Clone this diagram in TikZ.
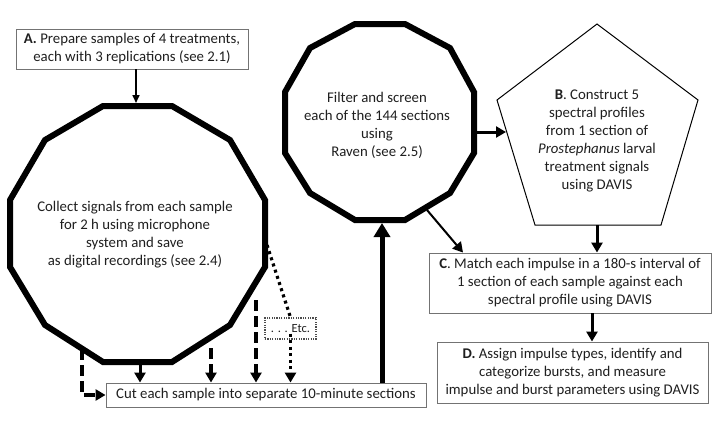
\documentclass[tikz,border=0pt]{standalone}
\usepackage{fontspec}
\setmainfont{Carlito}
\usetikzlibrary{arrows.meta}
\begin{document}
\begin{tikzpicture}[x=1pt,y=-1pt,
  txt/.style={font=\fontsize{14.8}{18}\selectfont, align=center, text=black!88, inner sep=0pt},
  box/.style={txt, draw=black!55, line width=0.9pt, fill=white},
  poly/.style={line width=6pt, line join=miter, draw=black},
  thinarr/.style={line width=1.6pt, -{Triangle[length=8pt,width=7pt]}},
  medarr/.style={line width=3pt, -{Triangle[length=10pt,width=11pt]}},
  bigarr/.style={line width=5pt, -{Triangle[length=14pt,width=16pt]}},
  dasharr/.style={line width=3.4pt, dash pattern=on 11pt off 5pt, -{Triangle[length=10pt,width=11pt]}},
  dotline/.style={line width=3.2pt, dash pattern=on 3pt off 3.5pt},
]
\useasboundingbox (0,0) rectangle (720,432);
\fill[white] (0,0) rectangle (720,432);

% left dodecagon
\draw[poly] (103,106) -- (172,106) -- (230,140) -- (265,200) -- (265,267) -- (230,325)
  -- (172,362) -- (103,362) -- (45,325) -- (10,267) -- (10,200) -- (45,140) -- cycle;
\node[txt] (L) at (135,235) {Collect signals from each sample\\for 2 h using microphone\\system and save\\as digital recordings (see 2.4)};

% middle dodecagon
\draw[poly] (355,24) -- (405,24) -- (450,48) -- (474,92) -- (474,153) -- (450,193)
  -- (405,220) -- (355,220) -- (310,193) -- (285,153) -- (285,92) -- (310,48) -- cycle;
\node[txt] (M) at (377,125) {Filter and screen\\each of the 144 sections\\using\\Raven (see 2.5)};

% pentagon
\draw[line width=1pt, line join=miter] (597,24) -- (698,100) -- (661,225) -- (535,225) -- (497,100) -- cycle;
\node[txt] (P) at (597,141) {\textbf{B}. Construct 5\\spectral profiles\\from 1 section of\\\textit{Prostephanus} larval\\treatment signals\\using DAVIS};

% boxes
\node[box, minimum width=232pt, minimum height=40pt] (A) at (132,49) {\textbf{A.} Prepare samples of 4 treatments,\\each with 3 replications (see 2.1)};
\node[box, minimum width=282pt, minimum height=60pt] (C) at (570,283) {\textbf{C}. Match each impulse in a 180-s interval of\\1 section of each sample against each\\spectral profile using DAVIS};
\node[box, minimum width=271pt, minimum height=61pt] (D) at (572.5,372.5) {\textbf{D.} Assign impulse types, identify and\\categorize bursts, and measure\\impulse and burst parameters using DAVIS};
\node[box, minimum width=320pt, minimum height=24pt] (E) at (266,395) {Cut each sample into separate 10-minute sections};
\node[txt, draw=black!70, line width=1.2pt, dash pattern=on 1.2pt off 1.2pt, minimum width=51pt, minimum height=21pt, font=\fontsize{12.5}{14}\selectfont] (X) at (290.5,328.5) {. . . Etc.};

% anchor coordinates
\coordinate (Ltop) at (136,103);
\coordinate (Lb1) at (82,349);
\coordinate (Lb2) at (140,365);
\coordinate (Lb3) at (211,348);
\coordinate (Lb4) at (256,300);
\coordinate (Lr) at (267,245);
\coordinate (Mb) at (382,223);
\coordinate (Mr) at (477,132);
\coordinate (Mbr) at (427,210);
\coordinate (Pl) at (506,132);
\coordinate (Pb) at (597,225);

% connectors
\draw[thinarr] (A.south -| Ltop) -- (Ltop);
\draw[dasharr] (Lb1) -- (Lb1 |- E.west) -- (E.west);
\draw[medarr] (Lb2) -- (Lb2 |- E.north);
\draw[dasharr] (Lb3) -- (Lb3 |- E.north);
\draw[dasharr] (Lb4) -- (Lb4 |- E.north);
\draw[dotline] (Lr) -- (X.north);
\draw[dotline, -{Triangle[length=10pt,width=11pt]}] ([yshift=6pt]X.south) -- (X.south |- E.north);
\draw[bigarr] (E.north -| Mb) -- (Mb);
\draw[medarr] (Mr) -- (Pl);
\draw[medarr, line width=2pt] (Mbr) -- ([xshift=-107pt]C.north);
\draw[medarr] (Pb) -- (Pb |- C.north);
\draw[medarr] ([xshift=22pt]C.south) -- ([xshift=19.5pt]D.north);
\end{tikzpicture}
\end{document}
